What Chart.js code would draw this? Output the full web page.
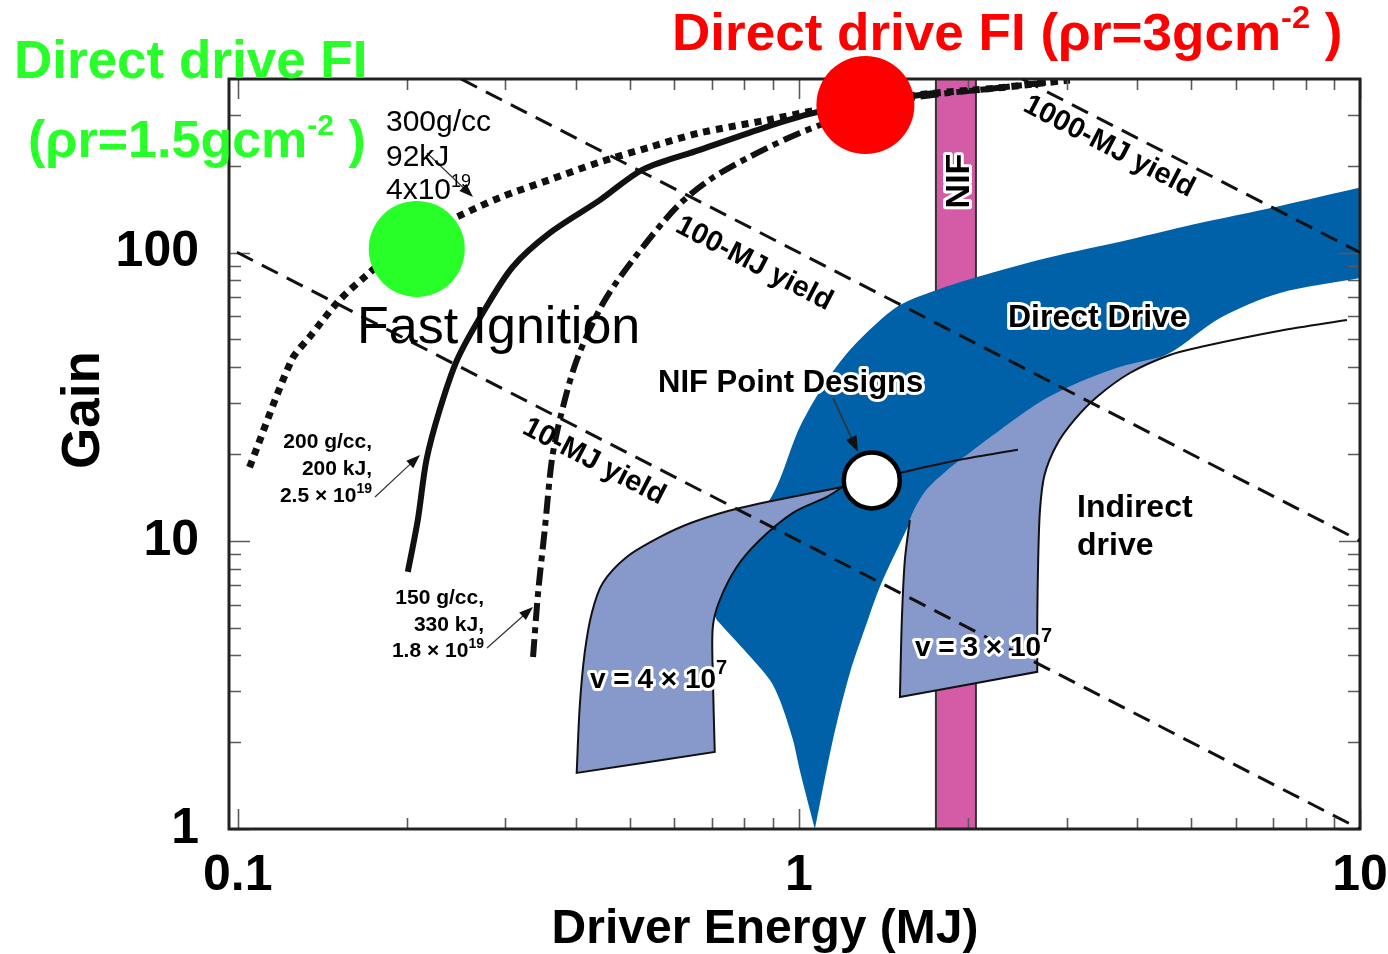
<!DOCTYPE html>
<html>
<head>
<meta charset="utf-8">
<script src="https://cdn.jsdelivr.net/npm/chart.js@4/dist/chart.umd.min.js"></script>
<style>
  html, body { margin: 0; padding: 0; background: #fff; }
  canvas { display: block; }
</style>
</head>
<body>
<canvas id="chart" width="1388" height="954"></canvas>
<script>
// ---- Axis ticks -------------------------------------------------------
const energyTicks = [0.1, 1, 10];
const energyTickLabels = ['0.1', '1', '10'];
const energyMinorTicks = [0.2, 0.3, 0.4, 0.5, 0.6, 0.7, 0.8, 0.9, 2, 3, 4, 5, 6, 7, 8, 9];
const gainTicks = [1, 10, 100];
const gainTickLabels = ['1', '10', '100'];
const gainMinorTicks = [2, 3, 4, 5, 6, 7, 8, 9, 20, 30, 40, 50, 60, 70, 80, 90, 200, 300];

// ---- Constant-yield contours (gain x energy = yield) ------------------
const yield10Energy = [0.09, 10];
const yield10Gain = [111, 1];
const yield100Energy = [0.25, 10];
const yield100Gain = [400, 10];
const yield1000Energy = [2.5, 10];
const yield1000Gain = [400, 100];

// ---- Fast ignition gain curves ---------------------------------------
// 300 g/cc, 92 kJ, 4x10^19 (dotted)
const fi300Energy = [0.105, 0.1248, 0.1344, 0.152, 0.170, 0.2025, 0.246, 0.293, 0.360, 0.442, 0.5425, 0.666, 0.877, 1.077, 1.623, 2.28, 3.04];
const fi300Gain = [18.0, 42.4, 51.0, 68.5, 83.6, 111, 133, 155, 179, 206, 232, 260, 288, 312, 352, 373, 397];
// 200 g/cc, 200 kJ, 2.5x10^19 (solid)
const fi200Energy = [0.201, 0.2094, 0.217, 0.229, 0.246, 0.2733, 0.309, 0.360, 0.442, 0.527, 0.666, 0.877, 1.077, 1.514, 1.748];
const fi200Gain = [7.8, 11.8, 19.1, 28.4, 42.4, 61.7, 89.1, 117, 152, 194, 227, 273, 307, 344, 358];
// 150 g/cc, 330 kJ, 1.8x10^19 (dash-dot)
const fi150Energy = [0.336, 0.343, 0.3525, 0.363, 0.375, 0.402, 0.448, 0.506, 0.606, 0.694, 0.818, 1.004, 1.233, 1.597, 2.28, 3.04];
const fi150Gain = [3.95, 6.59, 10.9, 19.1, 26.3, 42.4, 66.8, 94.2, 144, 179, 215, 260, 300, 344, 373, 397];

// ---- Direct drive FI design points -----------------------------------
const fiPointEnergy = [0.2085, 1.314];   // rho-r = 1.5 and 3 g/cm^2
const fiPointGain = [102.9, 325];

// ---- NIF point design ------------------------------------------------
const nifPointEnergy = [1.349];
const nifPointGain = [16.2];

// ---- NIF laser energy band -------------------------------------------
const nifBandEnergy = [1.755, 1.755, 2.068, 2.068, 1.755];
const nifBandGain = [1, 400, 400, 1, 1];

// ---- Direct drive gain band (outline, counter-clockwise from the tip) -
const directDriveEnergy = [1.068, 1.004, 0.976, 0.925, 0.888, 0.808, 0.714, 0.714, 0.666, 0.785, 0.888, 1.004, 1.122, 1.233, 1.366, 1.514, 1.762, 2.077, 2.767, 3.89, 5.04, 7.20, 10, 10, 10, 10, 7.20, 5.63, 4.58, 3.73, 3.17, 2.69, 2.28, 1.960, 1.820, 1.677, 1.597, 1.495, 1.394, 1.322, 1.233, 1.150, 1.068];
const directDriveGain = [1.0, 1.60, 2.04, 2.80, 3.29, 4.08, 5.31, 5.31, 7.92, 11.8, 13.9, 24.8, 36.1, 45.9, 56.1, 65.8, 74.2, 82.3, 95.8, 111, 125, 145, 168, 168, 81.6, 81.6, 72.4, 59.3, 44.8, 38.5, 33.9, 28.4, 22.9, 18.6, 16.6, 14.2, 12.1, 9.29, 6.91, 5.19, 3.48, 2.04, 1.0];

// ---- Indirect drive, v = 4x10^7 cm/s ---------------------------------
const indirect4Energy = [1.198, 0.785, 0.647, 0.565, 0.4935, 0.4473, 0.4276, 0.4153, 0.4069, 0.4019, 0.4019, 0.7082, 0.7082, 0.7025, 0.7025, 0.723, 0.775, 0.852, 0.976, 1.122, 1.198];
const indirect4Gain = [15.4, 13.0, 11.6, 10.3, 8.79, 7.14, 5.62, 4.08, 2.65, 1.565, 1.565, 1.85, 1.85, 3.48, 5.02, 6.23, 8.11, 10.06, 12.5, 14.2, 15.4];
const indirect4TailEnergy = [1.198, 1.532, 1.936, 2.457];
const indirect4TailGain = [15.4, 17.3, 19.1, 20.7];

// ---- Indirect drive, v = 3x10^7 cm/s ---------------------------------
const indirect3Energy = [1.514, 1.526, 1.545, 1.577, 1.677, 1.820, 1.960, 2.28, 2.69, 3.17, 3.73, 4.58, 4.58, 3.89, 3.40, 3.10, 2.88, 2.74, 2.69, 2.67, 2.66, 2.66, 2.66, 1.514];
const indirect3Gain = [2.87, 5.31, 8.58, 11.8, 14.8, 17.3, 19.4, 24.2, 30.3, 35.6, 40.1, 44.1, 44.1, 38.2, 31.6, 26.3, 21.5, 16.9, 12.8, 8.58, 5.31, 3.51, 3.51, 2.87];
const indirect3EdgeEnergy = [9.48, 7.20, 5.19, 4.58, 3.89, 3.40, 3.10, 2.88, 2.74, 2.69, 2.67, 2.66, 2.66, 2.66, 1.514, 1.514, 1.526, 1.545, 1.577];
const indirect3EdgeGain = [58.3, 53.5, 47.0, 44.1, 38.2, 31.6, 26.3, 21.5, 16.9, 12.8, 8.58, 5.31, 3.51, 3.51, 2.87, 2.87, 5.31, 8.58, 11.8];

// ---------------------------------------------------------------------
const FF = '"Liberation Sans", Arial, Helvetica, sans-serif';
const font = (w, s) => `${w} ${s}px ${FF}`;
const pts = (xs, ys) => xs.map((x, i) => ({ x, y: ys[i] }));

const BLUE = '#0060a8';
const LILAC = '#8799cb';
const MAGENTA = '#d45ba5';
const GREEN = '#28ff28';
const RED = '#ff0000';

function area(xs, ys, color, order, extra) {
  return Object.assign({
    data: pts(xs, ys), backgroundColor: color, borderColor: 'rgba(0,0,0,0)',
    borderWidth: 0, fill: 'shape', tension: 0.3, pointRadius: 0, order
  }, extra || {});
}
function curve(xs, ys, width, dash, order, extra) {
  return Object.assign({
    data: pts(xs, ys), borderColor: '#111', borderWidth: width, borderDash: dash,
    fill: false, tension: 0.3, pointRadius: 0, order, borderCapStyle: 'butt'
  }, extra || {});
}

const datasets = [
  area(nifBandEnergy, nifBandGain, MAGENTA, 9, { tension: 0, borderColor: '#333', borderWidth: 2 }),
  area(directDriveEnergy, directDriveGain, BLUE, 8),
  area(indirect4Energy, indirect4Gain, LILAC, 7, { borderColor: '#111', borderWidth: 2 }),
  area(indirect3Energy, indirect3Gain, LILAC, 7),
  curve(indirect3EdgeEnergy, indirect3EdgeGain, 2, [], 6),
  curve(indirect4TailEnergy, indirect4TailGain, 2, [], 6),
  curve(fi300Energy, fi300Gain, 7, [7, 6], 3),
  curve(fi200Energy, fi200Gain, 6, [], 3),
  curve(fi150Energy, fi150Gain, 6, [18, 6, 6, 6], 3),
  curve(yield10Energy, yield10Gain, 3, [18, 10], 1, { tension: 0 }),
  curve(yield100Energy, yield100Gain, 3, [18, 10], 1, { tension: 0 }),
  curve(yield1000Energy, yield1000Gain, 3, [18, 10], 1, { tension: 0 }),
  {
    data: pts(fiPointEnergy, fiPointGain), showLine: false, clip: false, order: 0,
    pointRadius: [48, 49], pointBackgroundColor: [GREEN, RED], pointBorderWidth: 0,
    pointBorderColor: 'rgba(0,0,0,0)'
  },
  {
    data: pts(nifPointEnergy, nifPointGain), showLine: false, clip: false, order: 0,
    pointRadius: 28, pointBackgroundColor: '#fff', pointBorderColor: '#000', pointBorderWidth: 4.5
  }
];

// ---- frame and inward ticks (drawn under the markers) -----------------
function drawFrame(chart) {
  const { ctx, chartArea: a, scales: { x, y } } = chart;
  ctx.save();
  ctx.strokeStyle = '#5a5a5a';
  ctx.lineWidth = 1.6;
  ctx.beginPath();
  const vx = (v, len) => {
    const p = Math.round(x.getPixelForValue(v)) + 0.5;
    ctx.moveTo(p, a.top); ctx.lineTo(p, a.top + len);
    ctx.moveTo(p, a.bottom); ctx.lineTo(p, a.bottom - len);
  };
  const hy = (v, len) => {
    const p = Math.round(y.getPixelForValue(v)) + 0.5;
    ctx.moveTo(a.left, p); ctx.lineTo(a.left + len, p);
    ctx.moveTo(a.right, p); ctx.lineTo(a.right - len, p);
  };
  energyMinorTicks.forEach(v => vx(v, 11));
  energyTicks.forEach(v => vx(v, 20));
  gainMinorTicks.forEach(v => hy(v, 12));
  gainTicks.forEach(v => hy(v, 21));
  ctx.stroke();
  ctx.strokeStyle = '#222';
  ctx.lineWidth = 3;
  ctx.strokeRect(a.left, a.top, a.right - a.left, a.bottom - a.top);
  ctx.restore();
}

const framePlugin = {
  id: 'frameTicks',
  beforeDatasetsDraw(chart) { chart.$frameDone = false; },
  beforeDatasetDraw(chart, args) {
    if (!chart.$frameDone && args.meta.order <= 1) {
      drawFrame(chart);
      chart.$frameDone = true;
    }
  }
};

// ---- text and arrows --------------------------------------------------
function drawRich(ctx, item) {
  const { x, y, runs, align = 'left', color = '#000', halo = false, sx = 1, rotate = 0 } = item;
  ctx.save();
  ctx.translate(x, y);
  if (rotate) ctx.rotate(rotate);
  ctx.scale(sx, 1);
  ctx.textAlign = 'left';
  ctx.textBaseline = 'alphabetic';
  let total = 0;
  const widths = runs.map(r => { ctx.font = r.font; const w = ctx.measureText(r.text).width; total += w; return w; });
  const x0 = align === 'right' ? -total : align === 'center' ? -total / 2 : 0;
  if (halo) {
    let cx = x0;
    ctx.strokeStyle = '#fff';
    ctx.lineWidth = 6;
    ctx.lineJoin = 'round';
    runs.forEach((r, i) => { ctx.font = r.font; ctx.strokeText(r.text, cx, r.dy || 0); cx += widths[i]; });
  }
  let cx = x0;
  ctx.fillStyle = color;
  runs.forEach((r, i) => { ctx.font = r.font; ctx.fillText(r.text, cx, r.dy || 0); cx += widths[i]; });
  ctx.restore();
}

function arrow(ctx, x1, y1, x2, y2, w, head) {
  const a = Math.atan2(y2 - y1, x2 - x1);
  const c = Math.cos(a), s = Math.sin(a);
  ctx.save();
  ctx.strokeStyle = '#333';
  ctx.fillStyle = '#111';
  ctx.lineWidth = w;
  ctx.beginPath();
  ctx.moveTo(x1, y1);
  ctx.lineTo(x2 - head * 0.8 * c, y2 - head * 0.8 * s);
  ctx.stroke();
  ctx.beginPath();
  ctx.moveTo(x2, y2);
  ctx.lineTo(x2 - head * c + head * 0.36 * s, y2 - head * s - head * 0.36 * c);
  ctx.lineTo(x2 - head * c - head * 0.36 * s, y2 - head * s + head * 0.36 * c);
  ctx.closePath();
  ctx.fill();
  ctx.restore();
}

const B = 'bold', N = 'normal';
const YIELD_ANGLE = 0.48;
const notes = [
  { x: 14, y: 78, color: GREEN, runs: [{ text: 'Direct drive FI', font: font(B, 53) }] },
  { x: 28, y: 157, color: GREEN, runs: [
    { text: '(\u03c1r=1.5gcm', font: font(B, 52) },
    { text: '-2', font: font(B, 30), dy: -22 },
    { text: ' )', font: font(B, 52) }] },
  { x: 672, y: 50, color: RED, sx: 1.02, runs: [
    { text: 'Direct drive FI (\u03c1r=3gcm', font: font(B, 52) },
    { text: '-2', font: font(B, 32), dy: -22 },
    { text: ' )', font: font(B, 52) }] },
  { x: 386, y: 131, runs: [{ text: '300g/cc', font: font(N, 30) }] },
  { x: 386, y: 166, runs: [{ text: '92kJ', font: font(N, 30) }] },
  { x: 386, y: 199, runs: [{ text: '4x10', font: font(N, 30) }, { text: '19', font: font(N, 18), dy: -12 }] },
  { x: 357, y: 343, runs: [{ text: 'Fast Ignition', font: font(N, 52) }] },
  { x: 372, y: 448, align: 'right', runs: [{ text: '200 g/cc,', font: font(B, 21) }] },
  { x: 372, y: 475, align: 'right', runs: [{ text: '200 kJ,', font: font(B, 21) }] },
  { x: 372, y: 502, align: 'right', runs: [{ text: '2.5 \u00d7 10', font: font(B, 21) }, { text: '19', font: font(B, 14), dy: -9 }] },
  { x: 484, y: 604, align: 'right', runs: [{ text: '150 g/cc,', font: font(B, 21) }] },
  { x: 484, y: 631, align: 'right', runs: [{ text: '330 kJ,', font: font(B, 21) }] },
  { x: 484, y: 657, align: 'right', runs: [{ text: '1.8 \u00d7 10', font: font(B, 21) }, { text: '19', font: font(B, 14), dy: -9 }] },
  { x: 595, y: 460, rotate: YIELD_ANGLE, align: 'center', runs: [{ text: '10-MJ yield', font: font(B, 29), dy: 10 }] },
  { x: 755, y: 262, rotate: YIELD_ANGLE, align: 'center', runs: [{ text: '100-MJ yield', font: font(B, 29), dy: 10 }] },
  { x: 1110, y: 145, rotate: YIELD_ANGLE, align: 'center', runs: [{ text: '1000-MJ yield', font: font(B, 29), dy: 10 }] },
  { x: 658, y: 392, halo: true, runs: [{ text: 'NIF Point Designs', font: font(B, 31) }] },
  { x: 1008, y: 327, halo: true, runs: [{ text: 'Direct Drive', font: font(B, 32) }] },
  { x: 1077, y: 517, runs: [{ text: 'Indirect', font: font(B, 32) }] },
  { x: 1077, y: 555, runs: [{ text: 'drive', font: font(B, 32) }] },
  { x: 590, y: 688, halo: true, runs: [{ text: 'v = 4 \u00d7 10', font: font(B, 28) }, { text: '7', font: font(B, 20), dy: -14 }] },
  { x: 915, y: 656, halo: true, runs: [{ text: 'v = 3 \u00d7 10', font: font(B, 28) }, { text: '7', font: font(B, 20), dy: -14 }] },
  { x: 957, y: 181, rotate: -Math.PI / 2, align: 'center', halo: true, runs: [{ text: 'NIF', font: font(B, 34), dy: 12 }] },
  { x: 99, y: 410, rotate: -Math.PI / 2, align: 'center', runs: [{ text: 'Gain', font: font(B, 53) }] },
  { x: 765, y: 943, align: 'center', runs: [{ text: 'Driver Energy (MJ)', font: font(B, 48) }] }
];
const pointers = [
  [427, 153, 473, 197, 1.2, 14],
  [375, 497, 420, 455, 1.2, 14],
  [487, 648, 533, 607, 1.2, 14],
  [833, 398, 858, 452, 1.6, 16]
];

const notesPlugin = {
  id: 'notes',
  afterDatasetsDraw(chart) {
    const ctx = chart.ctx;
    pointers.forEach(p => arrow(ctx, ...p));
    notes.forEach(n => drawRich(ctx, n));
  }
};

new Chart(document.getElementById('chart'), {
  type: 'line',
  data: { datasets },
  options: {
    responsive: false,
    devicePixelRatio: 1,
    animation: false,
    events: [],
    layout: { autoPadding: false, padding: { top: 79, right: 28, bottom: 0, left: 0 } },
    elements: { line: { capBezierPoints: false } },
    plugins: { legend: { display: false }, tooltip: { enabled: false } },
    scales: {
      x: {
        type: 'logarithmic', position: 'bottom', min: 0.0965, max: 10, bounds: 'data',
        grid: { display: false, drawTicks: false }, border: { display: false },
        afterBuildTicks: s => { s.ticks = energyTicks.map(v => ({ value: v })); },
        afterFit: s => { s.height = 125; s.paddingLeft = 0; s.paddingRight = 28; },
        ticks: {
          autoSkip: false, maxRotation: 0, minRotation: 0, padding: 17, color: '#000',
          font: { family: FF, size: 50, weight: 'bold' },
          callback: v => energyTickLabels[energyTicks.indexOf(v)]
        }
      },
      y: {
        type: 'logarithmic', position: 'left', min: 1, max: 400, bounds: 'data',
        grid: { display: false, drawTicks: false }, border: { display: false },
        afterBuildTicks: s => { s.ticks = gainTicks.map(v => ({ value: v })); },
        afterFit: s => { s.width = 229; s.paddingTop = 0; s.paddingBottom = 0; },
        ticks: {
          autoSkip: false, padding: 30, color: '#000',
          font: { family: FF, size: 50, weight: 'bold' },
          callback: v => gainTickLabels[gainTicks.indexOf(v)]
        }
      }
    }
  },
  plugins: [framePlugin, notesPlugin]
});
</script>
</body>
</html>
